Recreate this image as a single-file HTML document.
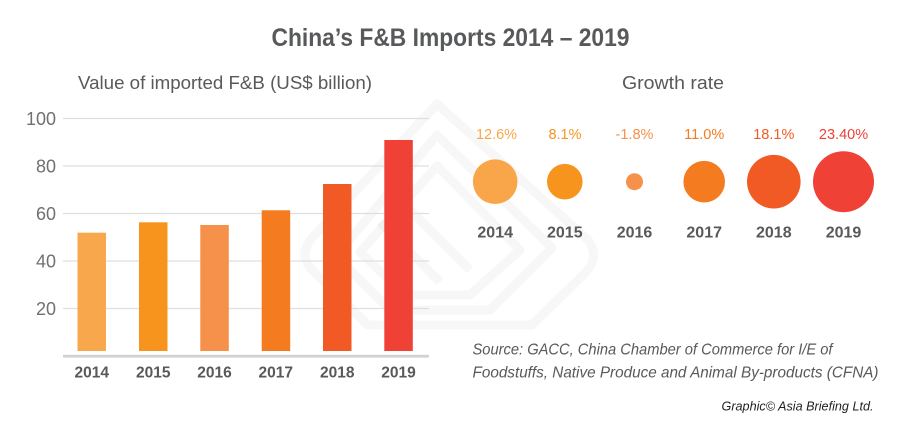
<!DOCTYPE html>
<html>
<head>
<meta charset="utf-8">
<style>
  html, body { margin: 0; padding: 0; background: #ffffff; }
  svg { display: block; }
  text { font-family: "Liberation Sans", "DejaVu Sans", sans-serif; }
</style>
</head>
<body>
<svg width="900" height="432" viewBox="0 0 900 432" xmlns="http://www.w3.org/2000/svg">
  <rect x="0" y="0" width="900" height="432" fill="#ffffff"/>

  <!-- Title -->
  <text x="271.5" y="46" font-size="25" font-weight="bold" fill="#58595b" textLength="358" lengthAdjust="spacingAndGlyphs">China’s F&amp;B Imports 2014 – 2019</text>

  <!-- Subtitles -->
  <text x="78" y="89" font-size="18.5" fill="#58595b" textLength="294" lengthAdjust="spacingAndGlyphs">Value of imported F&amp;B (US$ billion)</text>
  <text x="622" y="89" font-size="18.5" fill="#58595b" textLength="102" lengthAdjust="spacingAndGlyphs">Growth rate</text>

  <!-- Watermark (faint) -->
  <g fill="none" stroke="rgba(90,90,90,0.05)" stroke-width="9" stroke-linejoin="round">
    <path d="M437,104 L588,240 Q600,256 586,272 L532,325 L368,325 L312,270 Q298,254 312,238 Z"/>
    <path d="M437,135 L552,248 L490,310 L390,310 L336,256 Z"/>
    <path d="M437,166 L520,250 L470,295 L405,295 L360,252 Z"/>
    <path d="M400,200 L470,270"/>
    <path d="M380,222 L440,282"/>
  </g>

  <!-- Gridlines -->
  <g stroke="#dfdfdf" stroke-width="1.2">
    <line x1="63" y1="118.5" x2="429" y2="118.5"/>
    <line x1="63" y1="166" x2="429" y2="166"/>
    <line x1="63" y1="213.5" x2="429" y2="213.5"/>
    <line x1="63" y1="261" x2="429" y2="261"/>
    <line x1="63" y1="308.5" x2="429" y2="308.5"/>
  </g>

  <!-- Y labels -->
  <g font-size="18" fill="#707073" text-anchor="end">
    <text x="56" y="125">100</text>
    <text x="56" y="172.5">80</text>
    <text x="56" y="220">60</text>
    <text x="56" y="267.5">40</text>
    <text x="56" y="315">20</text>
  </g>

  <!-- Bars -->
  <rect x="77.5" y="232.7" width="28.5" height="118.3" fill="#f9a74d"/>
  <rect x="139" y="222.3" width="28.5" height="128.7" fill="#f7941e"/>
  <rect x="200.3" y="225" width="28.5" height="126" fill="#f6914c"/>
  <rect x="261.7" y="210.3" width="28.5" height="140.7" fill="#f47b20"/>
  <rect x="323" y="184" width="28.5" height="167" fill="#f15a24"/>
  <rect x="384.3" y="140" width="28.5" height="211" fill="#ef4136"/>

  <!-- Baseline -->
  <rect x="63" y="354.8" width="366" height="2.8" fill="#d1d2d4"/>

  <!-- X labels -->
  <g font-size="15.5" font-weight="bold" fill="#58595b" text-anchor="middle">
    <text x="91.7" y="377.3">2014</text>
    <text x="153.2" y="377.3">2015</text>
    <text x="214.5" y="377.3">2016</text>
    <text x="275.8" y="377.3">2017</text>
    <text x="337.2" y="377.3">2018</text>
    <text x="398.5" y="377.3">2019</text>
  </g>

  <!-- Growth labels -->
  <g font-size="14.5" text-anchor="middle">
    <text x="496.5" y="139" fill="#f9a64a">12.6%</text>
    <text x="565" y="139" fill="#f7941d">8.1%</text>
    <text x="634.5" y="139" fill="#f6914c">-1.8%</text>
    <text x="704.2" y="139" fill="#f47b20">11.0%</text>
    <text x="773.8" y="139" fill="#f15a24">18.1%</text>
    <text x="843.5" y="139" fill="#ef4136">23.40%</text>
  </g>

  <!-- Circles -->
  <circle cx="495.2" cy="181.7" r="22.3" fill="#f9a64a"/>
  <circle cx="564.8" cy="181.7" r="17.8" fill="#f7941d"/>
  <circle cx="634.5" cy="181.7" r="8.5" fill="#f6914c"/>
  <circle cx="704.2" cy="181.7" r="20.8" fill="#f47b20"/>
  <circle cx="773.8" cy="181.7" r="26.8" fill="#f15a24"/>
  <circle cx="843.5" cy="181.7" r="30.5" fill="#ef4136"/>

  <!-- Growth years -->
  <g font-size="16" font-weight="bold" fill="#58595b" text-anchor="middle">
    <text x="495.2" y="237.3">2014</text>
    <text x="564.8" y="237.3">2015</text>
    <text x="634.5" y="237.3">2016</text>
    <text x="704.2" y="237.3">2017</text>
    <text x="773.8" y="237.3">2018</text>
    <text x="843.5" y="237.3">2019</text>
  </g>

  <!-- Source -->
  <g font-size="16" font-style="italic" fill="#58595b">
    <text x="472.5" y="354.3" textLength="360" lengthAdjust="spacingAndGlyphs">Source: GACC, China Chamber of Commerce for I/E of</text>
    <text x="472.5" y="377.3" textLength="406" lengthAdjust="spacingAndGlyphs">Foodstuffs, Native Produce and Animal By-products (CFNA)</text>
  </g>
  <text x="721.5" y="410.7" font-size="12.5" font-style="italic" fill="#231f20" textLength="152" lengthAdjust="spacingAndGlyphs">Graphic© Asia Briefing Ltd.</text>
</svg>
</body>
</html>
